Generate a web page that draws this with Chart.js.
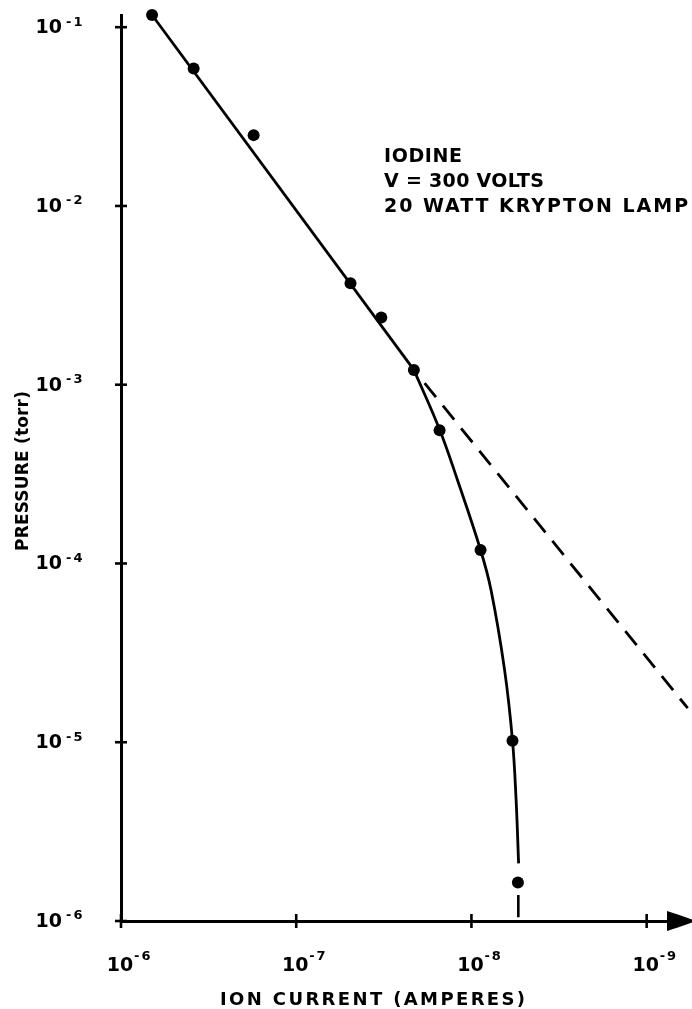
<!DOCTYPE html>
<html>
<head>
<meta charset="utf-8">
<title>Iodine ion current vs pressure</title>
<script src="https://cdn.jsdelivr.net/npm/chart.js@4.4.1/dist/chart.umd.min.js"></script>
<style>
  html, body { margin: 0; padding: 0; background: #fff; }
  canvas { display: block; }
</style>
</head>
<body>
<canvas id="ionChart" width="692" height="1009"></canvas>
<script>
// Measured points: ion current (A) against pressure (torr)
const measuredCurrent = [6.65e-7, 3.85e-7, 1.75e-7, 4.9e-8, 3.27e-8, 2.13e-8, 1.52e-8, 8.87e-9, 5.83e-9, 5.43e-9];
const measuredPressure = [0.117, 0.0587, 0.0249, 3.69e-3, 2.38e-3, 1.21e-3, 5.57e-4, 1.19e-4, 1.02e-5, 1.64e-6];

// Straight part of the fitted curve
const lineCurrent = [6.65e-7, 2.13e-8];
const linePressure = [0.117, 1.21e-3];

// Low pressure part, bending down
const curveCurrent = [2.13e-8, 1.52e-8, 1.20e-8, 8.87e-9, 7.73e-9, 6.47e-9, 5.83e-9, 5.56e-9, 5.38e-9];
const curvePressure = [1.21e-3, 5.62e-4, 2.92e-4, 1.19e-4, 7.10e-5, 2.54e-5, 1.02e-5, 4.75e-6, 2.1e-6];

// Straight line carried on (dashed)
const extCurrent = [1.85e-8, 5.83e-10];
const extPressure = [1.02e-3, 1.55e-5];

// Short stub under the last point
const tailCurrent = [5.4e-9, 5.4e-9];
const tailPressure = [1.4e-6, 1.05e-6];

const xTicks = [1e-6, 1e-7, 1e-8, 1e-9];
const xTickExp = ['-6', '-7', '-8', '-9'];
const yTicks = [1e-6, 1e-5, 1e-4, 1e-3, 1e-2, 1e-1];
const yTickExp = ['-6', '-5', '-4', '-3', '-2', '-1'];

const noteLines = ['IODINE', 'V = 300 VOLTS', '20 WATT KRYPTON LAMP'];
const xTitle = 'ION CURRENT (AMPERES)';
const yTitle = 'PRESSURE (torr)';

const FONT = '"DejaVu Sans", sans-serif';

function pairs(xs, ys) {
    return xs.map((x, i) => ({ x: x, y: ys[i] }));
}

// text stretched to a given width by letter spacing
function spacedText(ctx, text, x, y, width) {
    ctx.letterSpacing = '0px';
    const natural = ctx.measureText(text).width;
    const gap = (width - natural) / Math.max(1, text.length - 1);
    ctx.letterSpacing = gap.toFixed(2) + 'px';
    ctx.fillText(text, x, y);
    ctx.letterSpacing = '0px';
}

const decorations = {
    id: 'decorations',
    afterDraw(chart) {
        const ctx = chart.ctx;
        const xs = chart.scales.x;
        const ys = chart.scales.y;
        const area = chart.chartArea;
        ctx.save();
        ctx.fillStyle = '#000';
        ctx.strokeStyle = '#000';

        // tick crosses
        ctx.lineWidth = 2.6;
        yTicks.forEach(v => {
            const py = ys.getPixelForValue(v);
            ctx.beginPath();
            ctx.moveTo(area.left - 6, py);
            ctx.lineTo(area.left + 6, py);
            ctx.stroke();
        });
        xTicks.forEach(v => {
            const px = xs.getPixelForValue(v);
            ctx.beginPath();
            ctx.moveTo(px, area.bottom - 7);
            ctx.lineTo(px, area.bottom + 7);
            ctx.stroke();
        });

        // arrow head at the end of the current axis
        ctx.beginPath();
        ctx.moveTo(area.right - 9, area.bottom - 10);
        ctx.quadraticCurveTo(area.right + 4, area.bottom - 6, area.right + 20, area.bottom);
        ctx.quadraticCurveTo(area.right + 4, area.bottom + 6, area.right - 9, area.bottom + 10);
        ctx.closePath();
        ctx.fill();

        // y tick labels
        yTicks.forEach((v, i) => {
            const py = ys.getPixelForValue(v);
            ctx.font = 'bold 19px ' + FONT;
            ctx.textAlign = 'right';
            ctx.textBaseline = 'middle';
            ctx.fillText('10', 62, py + 1);
            ctx.font = 'bold 13px ' + FONT;
            ctx.textAlign = 'left';
            ctx.letterSpacing = '2px';
            ctx.fillText(yTickExp[i], 66, py - 5);
            ctx.letterSpacing = '0px';
        });

        // x tick labels
        xTicks.forEach((v, i) => {
            const px = xs.getPixelForValue(v);
            ctx.font = 'bold 19px ' + FONT;
            ctx.textAlign = 'center';
            ctx.textBaseline = 'middle';
            ctx.fillText('10', px - 1, 966);
            ctx.font = 'bold 13px ' + FONT;
            ctx.textAlign = 'left';
            ctx.letterSpacing = '2px';
            ctx.fillText(xTickExp[i], px + 13, 957);
            ctx.letterSpacing = '0px';
        });

        // axis titles
        ctx.textAlign = 'left';
        ctx.textBaseline = 'alphabetic';
        ctx.font = 'bold 18px ' + FONT;
        spacedText(ctx, xTitle, 220, 1005, 305);

        ctx.save();
        ctx.textBaseline = 'middle';
        ctx.translate(24, 551);
        ctx.rotate(-Math.PI / 2);
        ctx.font = 'bold 17px ' + FONT;
        spacedText(ctx, yTitle, 0, 0, 160);
        ctx.restore();

        // note block
        ctx.font = 'bold 19px ' + FONT;
        const noteWidths = [78, 160, 304];
        noteLines.forEach((t, i) => {
            spacedText(ctx, t, 384, 162 + i * 25, noteWidths[i]);
        });

        ctx.restore();
    }
};

function ionScale() {
    return {
        type: 'logarithmic',
        ticks: { display: false },
        grid: { drawOnChartArea: false, drawTicks: false },
        border: { color: '#000', width: 3 }
    };
}

const xAxis = Object.assign(ionScale(), {
    reverse: true,
    min: 6.8e-10,
    max: 1e-6,
    afterFit: s => { s.height = 88; },
    afterBuildTicks: s => { s.ticks = xTicks.map(v => ({ value: v })); }
});

const yAxis = Object.assign(ionScale(), {
    min: 1e-6,
    max: 0.117,
    afterFit: s => { s.width = 121; },
    afterBuildTicks: s => { s.ticks = yTicks.map(v => ({ value: v })); }
});

new Chart(document.getElementById('ionChart'), {
    type: 'scatter',
    data: {
        datasets: [{
            label: 'Measured',
            data: pairs(measuredCurrent, measuredPressure),
            showLine: false,
            pointRadius: 6,
            pointBackgroundColor: '#000',
            pointBorderWidth: 0
        }, {
            label: 'Fit',
            data: pairs(lineCurrent, linePressure),
            showLine: true,
            pointRadius: 0,
            borderColor: '#000',
            borderWidth: 2.8,
            tension: 0
        }, {
            label: 'Fit (low pressure)',
            data: pairs(curveCurrent, curvePressure),
            showLine: true,
            pointRadius: 0,
            borderColor: '#000',
            borderWidth: 2.8,
            tension: 0.4
        }, {
            label: 'Extrapolated',
            data: pairs(extCurrent, extPressure),
            showLine: true,
            pointRadius: 0,
            borderColor: '#000',
            borderWidth: 2.8,
            borderDash: [18, 11]
        }, {
            label: 'Tail',
            data: pairs(tailCurrent, tailPressure),
            showLine: true,
            pointRadius: 0,
            borderColor: '#000',
            borderWidth: 2.6
        }]
    },
    options: {
        responsive: false,
        devicePixelRatio: 1,
        animation: false,
        clip: false,
        layout: { padding: { top: 15, right: 16, left: 0, bottom: 0 } },
        plugins: {
            legend: { display: false },
            tooltip: { enabled: false }
        },
        scales: { x: xAxis, y: yAxis }
    },
    plugins: [decorations]
});
</script>
</body>
</html>
